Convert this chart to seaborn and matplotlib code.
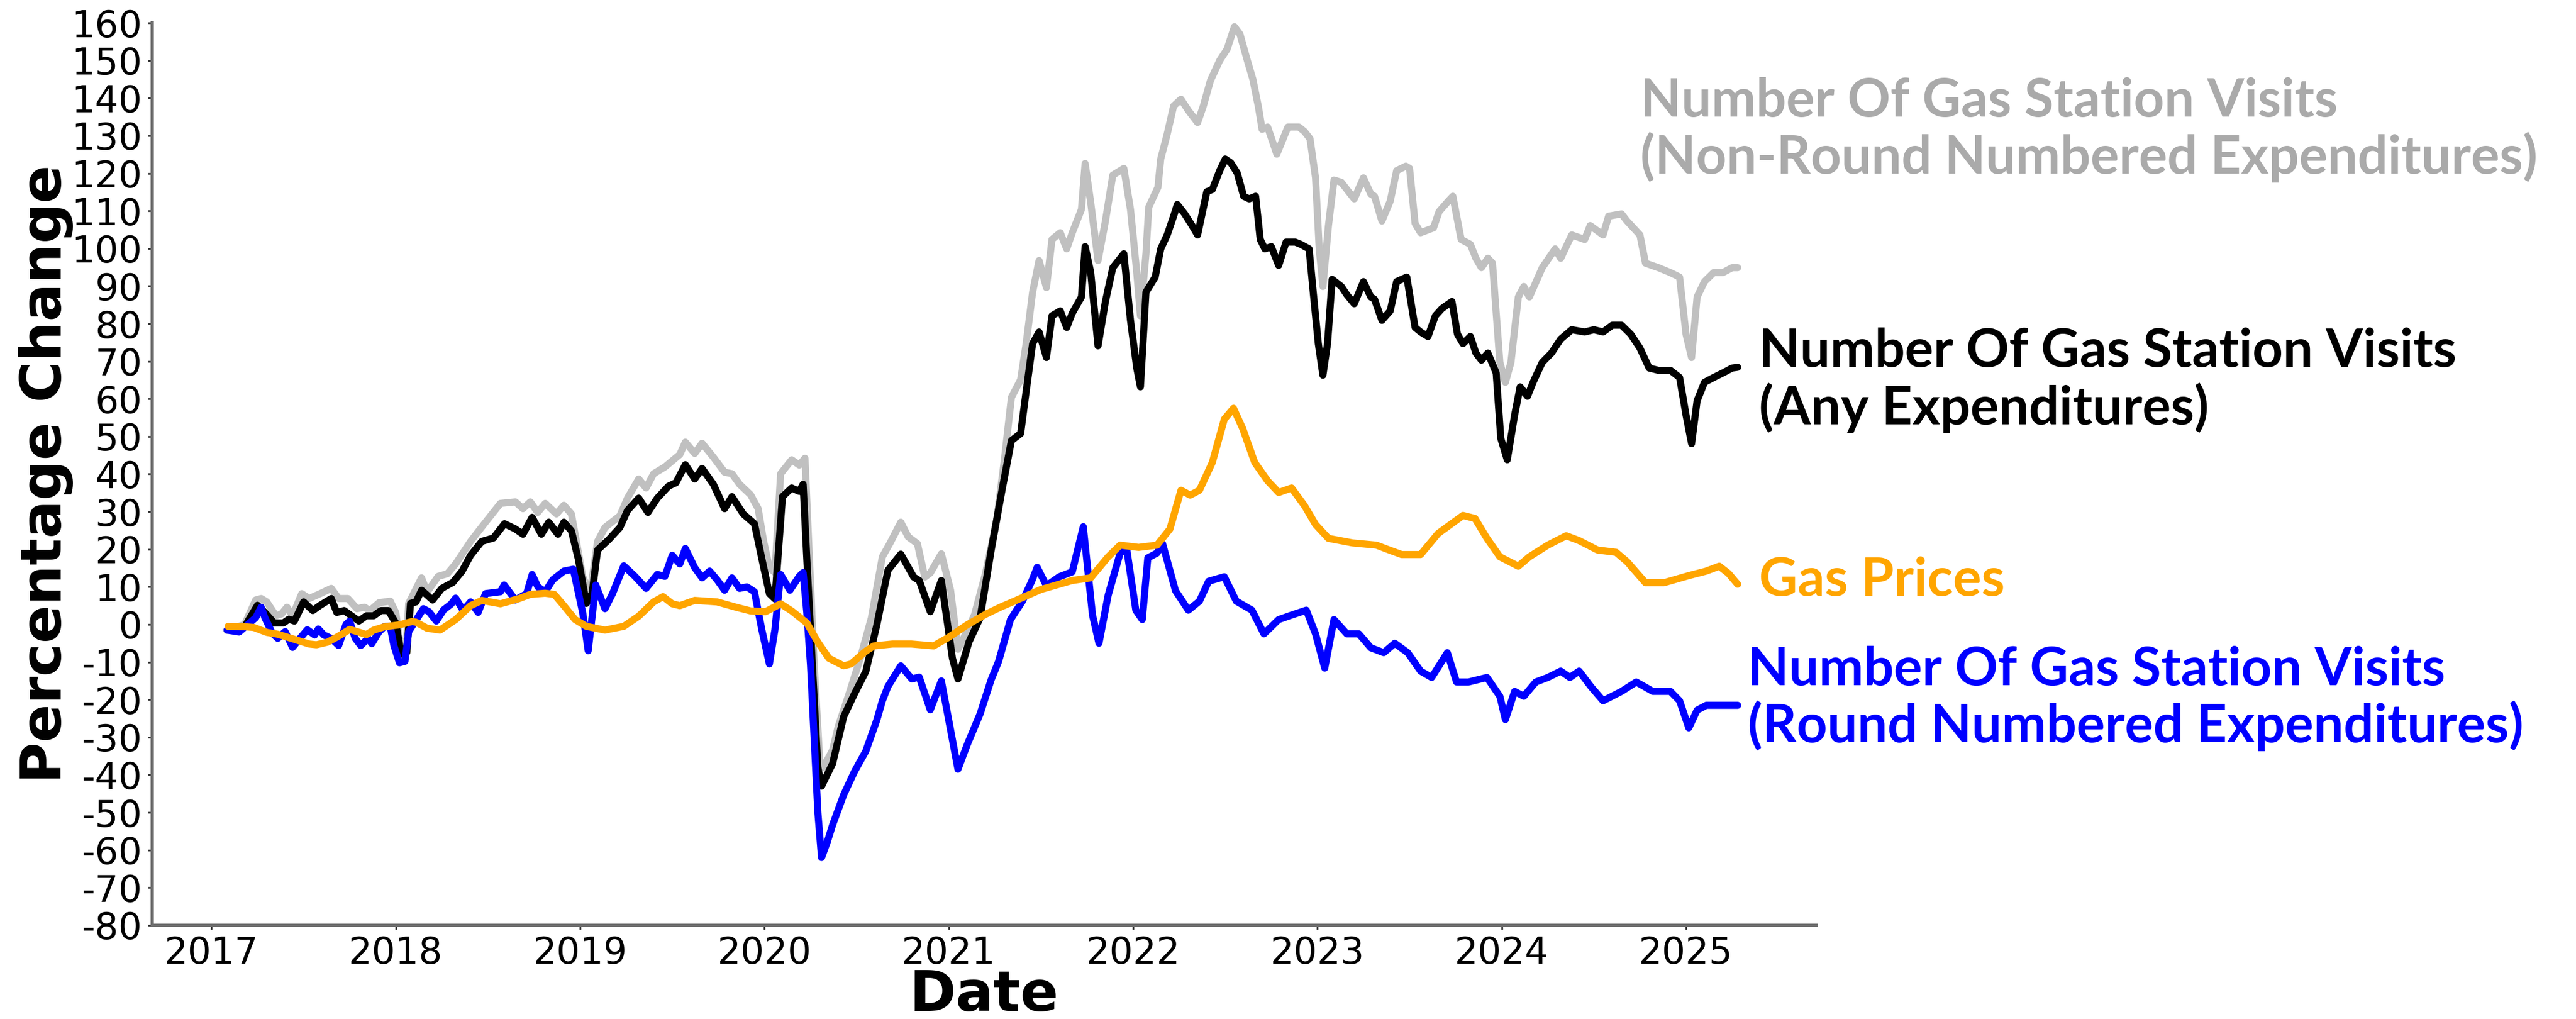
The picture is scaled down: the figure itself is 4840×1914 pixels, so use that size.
import matplotlib
matplotlib.use("Agg")
import matplotlib.pyplot as plt
import seaborn as sns

# ---------------- data (decimal years, percentage change) ----------------
gray_x = [2017.085, 2017.18, 2017.24, 2017.27, 2017.30, 2017.35, 2017.38, 2017.41, 2017.44, 2017.49,
          2017.53, 2017.59, 2017.65, 2017.69, 2017.74, 2017.79, 2017.83, 2017.86, 2017.91, 2017.97,
          2018.00, 2018.02, 2018.04, 2018.06, 2018.07, 2018.14, 2018.17, 2018.23, 2018.28, 2018.325,
          2018.406, 2018.487, 2018.568, 2018.649, 2018.69, 2018.73, 2018.77, 2018.811, 2018.872, 2018.912,
          2018.953, 2018.98, 2019.014, 2019.054, 2019.095, 2019.135, 2019.216, 2019.257, 2019.318, 2019.358,
          2019.399, 2019.46, 2019.541, 2019.571, 2019.622, 2019.662, 2019.723, 2019.784, 2019.824, 2019.865,
          2019.925, 2019.966, 2019.996, 2020.027, 2020.057, 2020.088, 2020.148, 2020.189, 2020.22, 2020.24,
          2020.27, 2020.30, 2020.32, 2020.37, 2020.40, 2020.46, 2020.52, 2020.58, 2020.64, 2020.68,
          2020.74, 2020.78, 2020.83, 2020.87, 2020.90, 2020.96, 2021.01, 2021.05, 2021.08, 2021.14,
          2021.20, 2021.26, 2021.30, 2021.34, 2021.39, 2021.42, 2021.455, 2021.49, 2021.53, 2021.56,
          2021.605, 2021.64, 2021.67, 2021.72, 2021.74, 2021.77, 2021.81, 2021.85, 2021.89, 2021.95,
          2021.986, 2022.02, 2022.04, 2022.07, 2022.085, 2022.135, 2022.15, 2022.185, 2022.22, 2022.26,
          2022.30, 2022.35, 2022.38, 2022.42, 2022.47, 2022.51, 2022.55, 2022.58, 2022.62, 2022.65,
          2022.68, 2022.70, 2022.73, 2022.78, 2022.84, 2022.90, 2022.93, 2022.96, 2022.99, 2023.01,
          2023.03, 2023.06, 2023.09, 2023.13, 2023.16, 2023.20, 2023.25, 2023.29, 2023.31, 2023.35,
          2023.395, 2023.43, 2023.48, 2023.50, 2023.53, 2023.56, 2023.63, 2023.66, 2023.71, 2023.735,
          2023.78, 2023.83, 2023.86, 2023.89, 2023.925, 2023.95, 2023.99, 2024.02, 2024.05, 2024.09,
          2024.12, 2024.15, 2024.22, 2024.29, 2024.32, 2024.38, 2024.45, 2024.48, 2024.55, 2024.58,
          2024.65, 2024.68, 2024.75, 2024.78, 2024.85, 2024.915, 2024.965, 2025.00, 2025.03, 2025.06,
          2025.10, 2025.15, 2025.20, 2025.25, 2025.28]
gray_y = [-1.5, 0.0, 6.5, 6.9, 6.0, 2.3, 2.8, 4.6, 2.3, 8.2,
          6.9, 8.2, 9.6, 6.9, 6.9, 4.2, 4.6, 3.7, 5.8, 6.2,
          3.2, -3.7, -6.5, -3.7, 5.6, 12.4, 8.6, 12.8, 13.5, 16.1,
          22.1, 27.2, 32.2, 32.6, 30.8, 32.6, 29.8, 32.2, 29.4, 31.7,
          29.4, 22.1, 12.8, 8.2, 22.1, 25.8, 28.9, 33.6, 38.7, 36.3,
          40.1, 41.9, 45.2, 48.5, 45.5, 48.2, 44.5, 40.5, 40.1, 37.3,
          34.5, 30.8, 22.1, 15.1, 13.8, 40.1, 43.8, 42.4, 44.2, 22.1,
          -10.6, -36.0, -38.0, -33.4, -27.2, -18.3, -9.0, 1.7, 18.0, 21.5,
          27.2, 23.3, 21.5, 12.6, 13.7, 18.8, 9.1, -6.6, -3.7, 2.6,
          13.7, 27.7, 43.0, 60.4, 65.1, 74.7, 88.4, 96.8, 89.6, 102.4,
          104.2, 99.9, 104.2, 110.4, 122.6, 112.3, 96.8, 107.3, 119.5, 121.3,
          110.4, 93.7, 82.1, 98.6, 111.0, 116.3, 123.8, 130.4, 137.9, 139.7,
          136.7, 133.5, 137.7, 144.7, 150.0, 153.0, 159.0, 157.0, 150.0, 145.0,
          137.7, 131.7, 132.3, 125.1, 132.3, 132.3, 131.1, 129.2, 118.8, 99.9,
          89.9, 106.1, 118.2, 117.6, 115.7, 113.2, 118.8, 114.5, 113.9, 107.3,
          112.6, 120.7, 121.9, 121.3, 106.7, 104.2, 105.5, 109.8, 112.6, 113.9,
          102.4, 101.1, 97.4, 94.9, 97.4, 96.1, 69.7, 64.4, 69.7, 87.1,
          89.9, 87.1, 94.9, 99.9, 97.4, 103.6, 102.4, 106.1, 103.6, 108.6,
          109.2, 107.3, 103.6, 96.1, 94.9, 93.6, 92.4, 77.2, 71.0, 87.1,
          91.2, 93.6, 93.6, 94.9, 94.9]

black_x = [2017.085, 2017.18, 2017.25, 2017.29, 2017.34, 2017.39, 2017.42, 2017.45, 2017.50, 2017.55,
           2017.59, 2017.65, 2017.68, 2017.72, 2017.80, 2017.84, 2017.88, 2017.92, 2017.96, 2018.00,
           2018.03, 2018.06, 2018.08, 2018.11, 2018.14, 2018.20, 2018.25, 2018.31, 2018.36, 2018.406,
           2018.467, 2018.53, 2018.59, 2018.649, 2018.69, 2018.74, 2018.79, 2018.83, 2018.88, 2018.912,
           2018.953, 2018.99, 2019.034, 2019.065, 2019.095, 2019.156, 2019.216, 2019.257, 2019.318, 2019.368,
           2019.419, 2019.48, 2019.52, 2019.571, 2019.622, 2019.662, 2019.723, 2019.784, 2019.824, 2019.885,
           2019.946, 2019.986, 2020.027, 2020.057, 2020.098, 2020.148, 2020.189, 2020.21, 2020.23, 2020.26,
           2020.29, 2020.31, 2020.37, 2020.43, 2020.49, 2020.55, 2020.61, 2020.67, 2020.74, 2020.81,
           2020.84, 2020.90, 2020.96, 2021.02, 2021.05, 2021.11, 2021.17, 2021.23, 2021.29, 2021.34,
           2021.39, 2021.42, 2021.455, 2021.49, 2021.53, 2021.56, 2021.605, 2021.64, 2021.67, 2021.72,
           2021.74, 2021.77, 2021.81, 2021.85, 2021.89, 2021.95, 2021.986, 2022.02, 2022.04, 2022.07,
           2022.12, 2022.15, 2022.185, 2022.22, 2022.24, 2022.28, 2022.32, 2022.35, 2022.40, 2022.43,
           2022.47, 2022.50, 2022.53, 2022.565, 2022.60, 2022.63, 2022.665, 2022.69, 2022.715, 2022.75,
           2022.79, 2022.83, 2022.88, 2022.91, 2022.955, 2022.98, 2023.005, 2023.03, 2023.055, 2023.08,
           2023.13, 2023.16, 2023.20, 2023.25, 2023.29, 2023.31, 2023.35, 2023.395, 2023.43, 2023.485,
           2023.53, 2023.56, 2023.60, 2023.64, 2023.675, 2023.73, 2023.76, 2023.79, 2023.83, 2023.86,
           2023.89, 2023.925, 2023.97, 2023.995, 2024.03, 2024.07, 2024.10, 2024.14, 2024.17, 2024.22,
           2024.27, 2024.32, 2024.38, 2024.45, 2024.50, 2024.55, 2024.60, 2024.65, 2024.70, 2024.75,
           2024.80, 2024.85, 2024.915, 2024.965, 2025.00, 2025.03, 2025.06, 2025.10, 2025.15, 2025.20,
           2025.25, 2025.28]
black_y = [-1.5, -0.6, 5.1, 3.2, 0.4, 0.4, 1.4, 0.9, 6.0, 3.7,
           5.1, 6.9, 3.2, 3.7, 0.9, 2.3, 2.3, 3.7, 3.7, 0.4,
           -7.9, -7.4, 5.6, 6.0, 9.1, 6.5, 9.6, 11.2, 14.2, 18.4,
           22.1, 23.0, 26.8, 25.4, 24.0, 28.5, 24.0, 27.2, 24.0, 27.2,
           24.9, 17.5, 5.6, 8.2, 19.8, 22.6, 25.8, 30.3, 33.6, 29.8,
           33.6, 36.8, 37.7, 42.5, 38.7, 41.5, 37.3, 30.8, 34.0, 29.4,
           26.8, 17.5, 8.2, 6.8, 34.0, 36.3, 35.4, 37.3, 17.5, -10.6,
           -38.0, -43.0, -37.0, -24.5, -18.3, -12.5, -0.1, 14.4, 18.7, 12.6,
           11.7, 3.4, 11.7, -9.0, -14.5, -4.6, 1.7, 19.7, 36.0, 48.9,
           50.8, 62.0, 74.7, 77.8, 71.0, 82.1, 83.4, 79.0, 82.8, 87.1,
           100.5, 93.7, 74.1, 85.9, 94.9, 98.6, 80.9, 68.2, 63.2, 88.4,
           92.4, 99.9, 103.6, 108.6, 111.7, 109.2, 106.1, 103.6, 115.1, 115.7,
           120.7, 123.8, 122.8, 120.1, 113.9, 113.2, 113.9, 102.4, 99.9, 100.5,
           95.5, 101.7, 101.7, 101.1, 99.9, 87.1, 74.7, 66.3, 74.7, 91.8,
           89.9, 87.7, 85.3, 91.2, 87.1, 86.5, 80.9, 83.4, 91.2, 92.4,
           79.0, 77.8, 76.6, 82.1, 84.0, 85.9, 77.2, 74.7, 76.6, 72.2,
           70.3, 72.2, 66.9, 49.5, 43.8, 55.7, 63.2, 60.7, 64.4, 69.7,
           72.2, 75.9, 78.4, 77.8, 78.4, 77.8, 79.6, 79.6, 77.2, 73.5,
           68.2, 67.6, 67.6, 65.7, 55.7, 48.1, 59.5, 64.4, 65.7, 66.9,
           68.2, 68.4]

blue_x = [2017.085, 2017.15, 2017.24, 2017.27, 2017.29, 2017.33, 2017.36, 2017.40, 2017.44, 2017.48,
          2017.52, 2017.56, 2017.58, 2017.61, 2017.65, 2017.69, 2017.73, 2017.75, 2017.78, 2017.81,
          2017.85, 2017.87, 2017.91, 2017.94, 2017.97, 2017.99, 2018.02, 2018.05, 2018.07, 2018.10,
          2018.15, 2018.18, 2018.22, 2018.26, 2018.30, 2018.325, 2018.366, 2018.406, 2018.447, 2018.487,
          2018.568, 2018.588, 2018.649, 2018.71, 2018.74, 2018.771, 2018.811, 2018.852, 2018.912, 2018.963,
          2019.014, 2019.044, 2019.085, 2019.135, 2019.176, 2019.237, 2019.298, 2019.358, 2019.419, 2019.46,
          2019.50, 2019.541, 2019.571, 2019.622, 2019.662, 2019.703, 2019.743, 2019.784, 2019.824, 2019.865,
          2019.905, 2019.946, 2019.986, 2020.027, 2020.057, 2020.088, 2020.138, 2020.189, 2020.21, 2020.23,
          2020.25, 2020.29, 2020.31, 2020.34, 2020.37, 2020.43, 2020.49, 2020.55, 2020.61, 2020.64,
          2020.67, 2020.74, 2020.80, 2020.84, 2020.90, 2020.96, 2021.05, 2021.10, 2021.17, 2021.23,
          2021.27, 2021.335, 2021.40, 2021.45, 2021.48, 2021.53, 2021.60, 2021.67, 2021.73, 2021.78,
          2021.815, 2021.865, 2021.93, 2021.965, 2022.015, 2022.05, 2022.08, 2022.13, 2022.16, 2022.23,
          2022.30, 2022.36, 2022.41, 2022.495, 2022.56, 2022.645, 2022.71, 2022.79, 2022.86, 2022.94,
          2022.99, 2023.04, 2023.09, 2023.16, 2023.225, 2023.29, 2023.36, 2023.42, 2023.49, 2023.56,
          2023.62, 2023.705, 2023.755, 2023.82, 2023.92, 2023.99, 2024.02, 2024.07, 2024.12, 2024.185,
          2024.25, 2024.32, 2024.37, 2024.42, 2024.485, 2024.55, 2024.65, 2024.73, 2024.82, 2024.915,
          2024.965, 2025.015, 2025.06, 2025.11, 2025.18, 2025.28]
blue_y = [-1.5, -2.0, 1.8, 4.6, 1.8, -2.3, -3.7, -1.9, -6.1, -3.7,
          -1.4, -2.8, -1.2, -2.8, -3.7, -5.6, 0.0, 0.9, -3.7, -5.6,
          -3.7, -5.1, -1.9, -0.5, -0.5, -5.6, -10.2, -9.8, -1.9, 0.4,
          4.2, 3.4, 0.9, 3.9, 5.4, 7.0, 3.7, 6.0, 3.2, 8.2,
          8.7, 10.5, 6.5, 8.2, 13.3, 10.0, 8.7, 11.9, 14.2, 14.7,
          3.2, -7.0, 10.5, 4.2, 8.2, 15.6, 12.8, 9.6, 13.3, 12.8,
          18.4, 16.1, 20.2, 15.1, 12.4, 14.2, 11.9, 9.1, 12.4, 9.6,
          10.0, 8.7, -1.4, -10.5, -1.4, 13.3, 9.1, 12.8, 13.8, 3.2,
          -10.7, -50.0, -62.0, -58.0, -53.3, -45.3, -39.0, -33.7, -25.4, -20.3,
          -16.5, -11.0, -14.5, -14.0, -22.7, -15.0, -38.5, -32.0, -23.8, -14.7,
          -9.9, 1.3, 6.2, 11.5, 15.2, 10.3, 12.7, 14.0, 26.0, 2.5,
          -5.0, 7.8, 19.0, 20.2, 3.8, 1.3, 17.7, 19.0, 21.5, 9.0,
          3.8, 6.2, 11.5, 12.7, 6.2, 3.8, -2.5, 1.3, 2.5, 3.8,
          -2.5, -11.6, 1.3, -2.5, -2.5, -6.2, -7.5, -5.0, -7.5, -12.4,
          -14.1, -7.5, -15.3, -15.3, -14.1, -19.1, -25.3, -17.8, -19.1, -15.3,
          -14.1, -12.4, -14.1, -12.4, -16.6, -20.3, -17.8, -15.3, -17.8, -17.8,
          -20.3, -27.5, -22.8, -21.5, -21.5, -21.5]

orange_x = [2017.09, 2017.18, 2017.23, 2017.30, 2017.36, 2017.44, 2017.53, 2017.57, 2017.63, 2017.69,
            2017.75, 2017.81, 2017.84, 2017.88, 2017.94, 2018.02, 2018.09, 2018.11, 2018.17, 2018.24,
            2018.325, 2018.406, 2018.467, 2018.568, 2018.67, 2018.73, 2018.81, 2018.86, 2018.912, 2018.973,
            2019.034, 2019.135, 2019.237, 2019.318, 2019.399, 2019.45, 2019.50, 2019.541, 2019.622, 2019.743,
            2019.845, 2019.925, 2020.006, 2020.088, 2020.148, 2020.23, 2020.29, 2020.35, 2020.43, 2020.47,
            2020.55, 2020.594, 2020.695, 2020.797, 2020.918, 2021.00, 2021.10, 2021.20, 2021.28, 2021.37,
            2021.50, 2021.67, 2021.77, 2021.865, 2021.93, 2022.03, 2022.13, 2022.20, 2022.26, 2022.31,
            2022.36, 2022.43, 2022.495, 2022.545, 2022.595, 2022.66, 2022.73, 2022.79, 2022.86, 2022.93,
            2022.99, 2023.06, 2023.19, 2023.32, 2023.39, 2023.457, 2023.56, 2023.655, 2023.79, 2023.855,
            2023.92, 2023.99, 2024.09, 2024.15, 2024.25, 2024.35, 2024.42, 2024.52, 2024.62, 2024.68,
            2024.78, 2024.88, 2025.015, 2025.11, 2025.18, 2025.23, 2025.28]
orange_y = [-0.5, -0.6, -0.8, -2.1, -2.6, -3.8, -5.2, -5.4, -4.7, -3.1,
            -1.3, -2.2, -2.7, -1.5, -0.6, -0.1, 0.8, 0.6, -1.0, -1.5,
            1.3, 5.0, 6.4, 5.5, 6.9, 8.0, 8.3, 8.0, 5.0, 1.3,
            -0.5, -1.5, -0.5, 2.2, 6.0, 7.4, 5.5, 5.0, 6.4, 6.0,
            4.6, 3.6, 3.4, 5.5, 3.6, 0.4, -4.7, -9.0, -11.0, -10.5,
            -7.1, -5.7, -5.2, -5.2, -5.7, -3.4, -0.1, 2.7, 4.6, 6.5,
            9.3, 11.7, 12.4, 18.0, 21.1, 20.5, 21.1, 25.4, 35.7, 34.4,
            35.7, 43.1, 54.6, 57.5, 52.1, 43.1, 38.2, 35.1, 36.3, 31.6,
            26.6, 22.9, 21.7, 21.1, 19.8, 18.6, 18.6, 24.2, 29.0, 28.2,
            22.9, 18.0, 15.5, 18.0, 21.1, 23.6, 22.3, 19.8, 19.2, 16.7,
            11.1, 11.1, 13.0, 14.2, 15.5, 13.6, 10.7]

year_ticks = [2017, 2018, 2019, 2020, 2021, 2022, 2023, 2024, 2025]
year_labels = [str(y) for y in year_ticks]
pct_ticks = list(range(-80, 161, 10))

label_gray = "Number Of Gas Station Visits\n(Non-Round Numbered Expenditures)"
label_black = "Number Of Gas Station Visits\n(Any Expenditures)"
label_orange = "Gas Prices"
label_blue = "Number Of Gas Station Visits\n(Round Numbered Expenditures)"

# ---------------- plot ----------------
sns.set_theme(style="white")
plt.rcParams["font.family"] = ["DejaVu Sans"]
plt.rcParams["axes.unicode_minus"] = False
plt.rcParams["text.color"] = "black"
plt.rcParams["axes.labelcolor"] = "black"
plt.rcParams["xtick.color"] = "black"
plt.rcParams["ytick.color"] = "black"

fig = plt.figure(figsize=(24.2, 9.57), dpi=200)
ax = fig.add_axes([0.0590, 0.0920, 0.6460, 0.8855])

LW = 4.8
sns.lineplot(x=gray_x, y=gray_y, color="#c0c0c0", linewidth=LW, ax=ax, estimator=None, sort=False)
sns.lineplot(x=black_x, y=black_y, color="black", linewidth=LW, ax=ax, estimator=None, sort=False)
sns.lineplot(x=blue_x, y=blue_y, color="#0000ff", linewidth=LW, ax=ax, estimator=None, sort=False)
sns.lineplot(x=orange_x, y=orange_y, color="#ffa500", linewidth=LW, ax=ax, estimator=None, sort=False)

ax.set_xlim(2016.6775, 2025.7055)
ax.set_ylim(-80, 160)
ax.set_xticks(year_ticks)
ax.set_xticklabels(year_labels)
ax.set_yticks(pct_ticks)
ax.tick_params(axis="both", labelsize=25, length=3, width=1.2, color="#333333",
               labelcolor="black", bottom=True, left=True, direction="out", pad=3.7)

for side in ["top", "right"]:
    ax.spines[side].set_visible(False)
for side in ["left", "bottom"]:
    ax.spines[side].set_color("#6e6e6e")
    ax.spines[side].set_linewidth(2.2)

ax.set_xlabel("Date", fontsize=38, fontweight="bold", color="black")
ax.xaxis.set_label_coords(0.5, -0.048)
ax.set_ylabel("Percentage Change", fontsize=38, fontweight="bold", color="black")
ax.yaxis.set_label_coords(-0.0472, 0.5)

txt = dict(fontsize=36, fontweight="bold", family=["Lato", "DejaVu Sans"],
           ha="left", va="center", linespacing=1.15, transform=fig.transFigure)
fig.text(0.6368, 0.8723, label_gray, color="#aaaaaa", **txt)
fig.text(0.6829, 0.6267, label_black, color="black", **txt)
fig.text(0.6829, 0.4300, label_orange, color="#ffa500", **txt)
fig.text(0.6785, 0.3145, label_blue, color="#0000ff", **txt)

fig.savefig("out.png", dpi=200, facecolor="white")
